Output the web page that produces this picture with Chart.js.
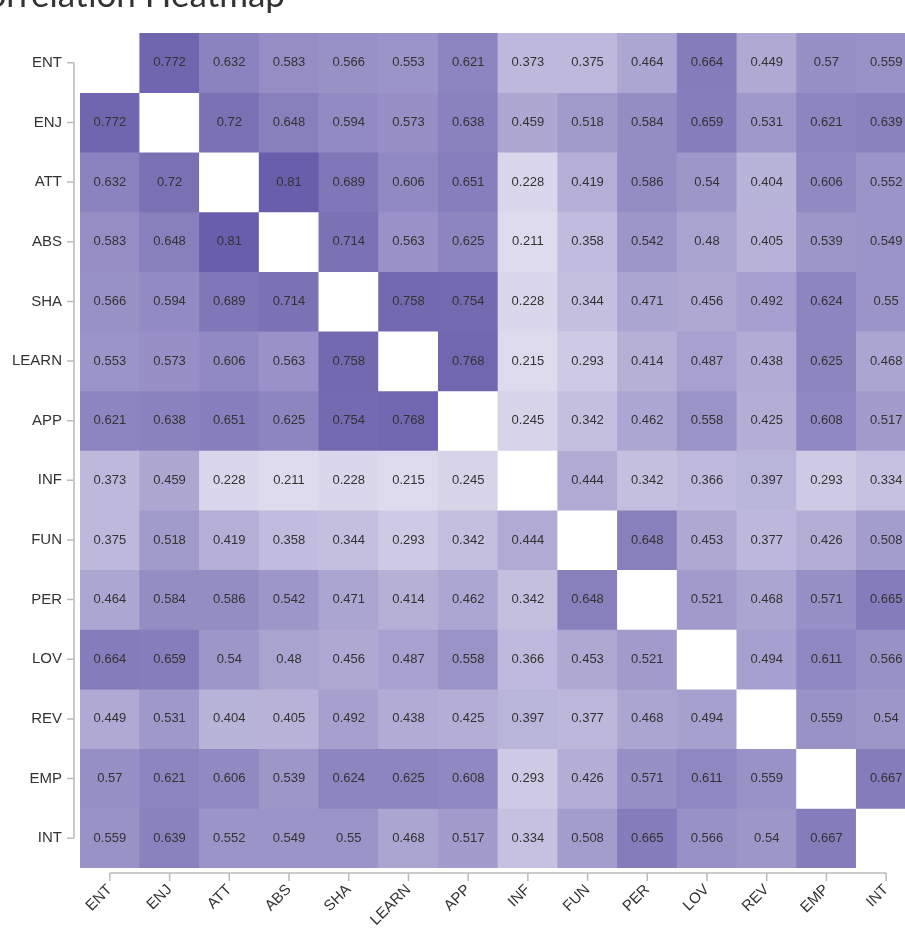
<!DOCTYPE html>
<html>
<head>
<meta charset="utf-8">
<script src="https://cdn.jsdelivr.net/npm/chart.js@4.4.0/dist/chart.umd.min.js"></script>
<style>
  html, body { margin: 0; padding: 0; background: #fff; overflow: hidden; }
  #wrap { position: relative; width: 916px; height: 944px; }
  #heatmap { position: absolute; left: 0; top: 0; }
  #title {
    position: absolute; top: -24px; right: 631px;
    font: 35px Lato, "DejaVu Sans", sans-serif; line-height: 35px;
    color: #333; white-space: nowrap;
  }
</style>
</head>
<body>
<div id="wrap">
  <canvas id="heatmap" width="916" height="944"></canvas>
  <div id="title">Correlation Heatmap</div>
</div>
<script>
// 변수 이름 (행/열 동일)
const labels = ["ENT", "ENJ", "ATT", "ABS", "SHA", "LEARN", "APP", "INF", "FUN", "PER", "LOV", "REV", "EMP", "INT"]

// 상관계수 행 (대각선은 null)
const entRow   = [null, 0.772, 0.632, 0.583, 0.566, 0.553, 0.621, 0.373, 0.375, 0.464, 0.664, 0.449, 0.57, 0.559]
const enjRow   = [0.772, null, 0.72, 0.648, 0.594, 0.573, 0.638, 0.459, 0.518, 0.584, 0.659, 0.531, 0.621, 0.639]
const attRow   = [0.632, 0.72, null, 0.81, 0.689, 0.606, 0.651, 0.228, 0.419, 0.586, 0.54, 0.404, 0.606, 0.552]
const absRow   = [0.583, 0.648, 0.81, null, 0.714, 0.563, 0.625, 0.211, 0.358, 0.542, 0.48, 0.405, 0.539, 0.549]
const shaRow   = [0.566, 0.594, 0.689, 0.714, null, 0.758, 0.754, 0.228, 0.344, 0.471, 0.456, 0.492, 0.624, 0.55]
const learnRow = [0.553, 0.573, 0.606, 0.563, 0.758, null, 0.768, 0.215, 0.293, 0.414, 0.487, 0.438, 0.625, 0.468]
const appRow   = [0.621, 0.638, 0.651, 0.625, 0.754, 0.768, null, 0.245, 0.342, 0.462, 0.558, 0.425, 0.608, 0.517]
const infRow   = [0.373, 0.459, 0.228, 0.211, 0.228, 0.215, 0.245, null, 0.444, 0.342, 0.366, 0.397, 0.293, 0.334]
const funRow   = [0.375, 0.518, 0.419, 0.358, 0.344, 0.293, 0.342, 0.444, null, 0.648, 0.453, 0.377, 0.426, 0.508]
const perRow   = [0.464, 0.584, 0.586, 0.542, 0.471, 0.414, 0.462, 0.342, 0.648, null, 0.521, 0.468, 0.571, 0.665]
const lovRow   = [0.664, 0.659, 0.54, 0.48, 0.456, 0.487, 0.558, 0.366, 0.453, 0.521, null, 0.494, 0.611, 0.566]
const revRow   = [0.449, 0.531, 0.404, 0.405, 0.492, 0.438, 0.425, 0.397, 0.377, 0.468, 0.494, null, 0.559, 0.54]
const empRow   = [0.57, 0.621, 0.606, 0.539, 0.624, 0.625, 0.608, 0.293, 0.426, 0.571, 0.611, 0.559, null, 0.667]
const intRow   = [0.559, 0.639, 0.552, 0.549, 0.55, 0.468, 0.517, 0.334, 0.508, 0.665, 0.566, 0.54, 0.667, null]

const matrix = [entRow, enjRow, attRow, absRow, shaRow, learnRow, appRow, infRow, funRow, perRow, lovRow, revRow, empRow, intRow]

// 색상 스케일 (연보라 -> 진보라)
const lowColor = [224, 221, 239]
const highColor = [102, 92, 170]
function cellColor(v) {
  if (v === null) return "#ffffff"
  const t = Math.min(1, Math.max(0, (v - 0.2) / 0.62))
  const c = lowColor.map((lo, i) => Math.round(lo + (highColor[i] - lo) * t))
  return `rgb(${c[0]}, ${c[1]}, ${c[2]})`
}

// 셀 안의 숫자
const valueLabels = {
  id: "valueLabels",
  afterDatasetsDraw(chart) {
    const ctx = chart.ctx
    ctx.save()
    ctx.font = "13px 'Liberation Sans', Arial, sans-serif"
    ctx.fillStyle = "#333"
    ctx.textAlign = "center"
    ctx.textBaseline = "middle"
    chart.data.datasets.forEach((ds, di) => {
      chart.getDatasetMeta(di).data.forEach((bar, ci) => {
        const v = matrix[di][ci]
        if (v === null) return
        ctx.fillText(String(v), bar.x, (bar.y + bar.base) / 2)
      })
    })
    ctx.restore()
  },
}

// d3 스타일 축선
const axisLines = {
  id: "axisLines",
  afterDraw(chart) {
    const { ctx, chartArea, scales } = chart
    const x = scales.x
    const y = scales.y
    ctx.save()
    ctx.strokeStyle = "#bbb"
    ctx.lineWidth = 1.5
    // x축
    const ax = chartArea.bottom + 5
    ctx.beginPath()
    ctx.moveTo(x.getPixelForTick(0), ax)
    ctx.lineTo(x.getPixelForTick(labels.length - 1), ax)
    for (let i = 0; i < labels.length; i++) {
      const px = x.getPixelForTick(i)
      ctx.moveTo(px, ax)
      ctx.lineTo(px, ax + 8)
    }
    ctx.stroke()
    // y축
    const ay = chartArea.left - 6
    ctx.beginPath()
    ctx.moveTo(ay, y.getPixelForTick(0))
    ctx.lineTo(ay, y.getPixelForTick(labels.length - 1))
    for (let i = 0; i < labels.length; i++) {
      const py = y.getPixelForTick(i)
      ctx.moveTo(ay, py)
      ctx.lineTo(ay - 7, py)
    }
    ctx.stroke()
    ctx.restore()
  },
}

document.addEventListener("DOMContentLoaded", () => {
  const ctx = document.getElementById("heatmap")
  new Chart(ctx, {
    type: "bar",
    data: {
      labels: labels,
      datasets: matrix.map((row, i) => ({
        label: labels[i],
        data: row.map(() => 1),
        backgroundColor: row.map(cellColor),
        borderWidth: 0,
        barPercentage: 1,
        categoryPercentage: 1,
      })),
    },
    options: {
      responsive: false,
      animation: false,
      devicePixelRatio: 1,
      layout: { padding: { top: 33, left: 0, right: 0, bottom: 0 } },
      plugins: {
        legend: { display: false },
        tooltip: { enabled: false },
      },
      scales: {
        x: {
          stacked: true,
          grid: { display: false, drawTicks: false },
          border: { display: false },
          ticks: {
            autoSkip: false,
            minRotation: 45,
            maxRotation: 45,
            padding: 13,
            color: "#333",
            font: { family: "'Liberation Sans', Arial, sans-serif", size: 15 },
          },
          afterFit: (scale) => { scale.height = 76 },
        },
        y: {
          stacked: true,
          reverse: true,
          min: 0,
          max: labels.length,
          grid: { display: false, drawTicks: false },
          border: { display: false },
          afterBuildTicks: (axis) => {
            axis.ticks = labels.map((_, i) => ({ value: i + 0.5 }))
          },
          ticks: {
            padding: 18,
            color: "#333",
            font: { family: "'Liberation Sans', Arial, sans-serif", size: 15 },
            callback: (value, index) => labels[index],
          },
          afterFit: (scale) => { scale.width = 80 },
        },
      },
    },
    plugins: [valueLabels, axisLines],
  })
})
</script>
</body>
</html>
